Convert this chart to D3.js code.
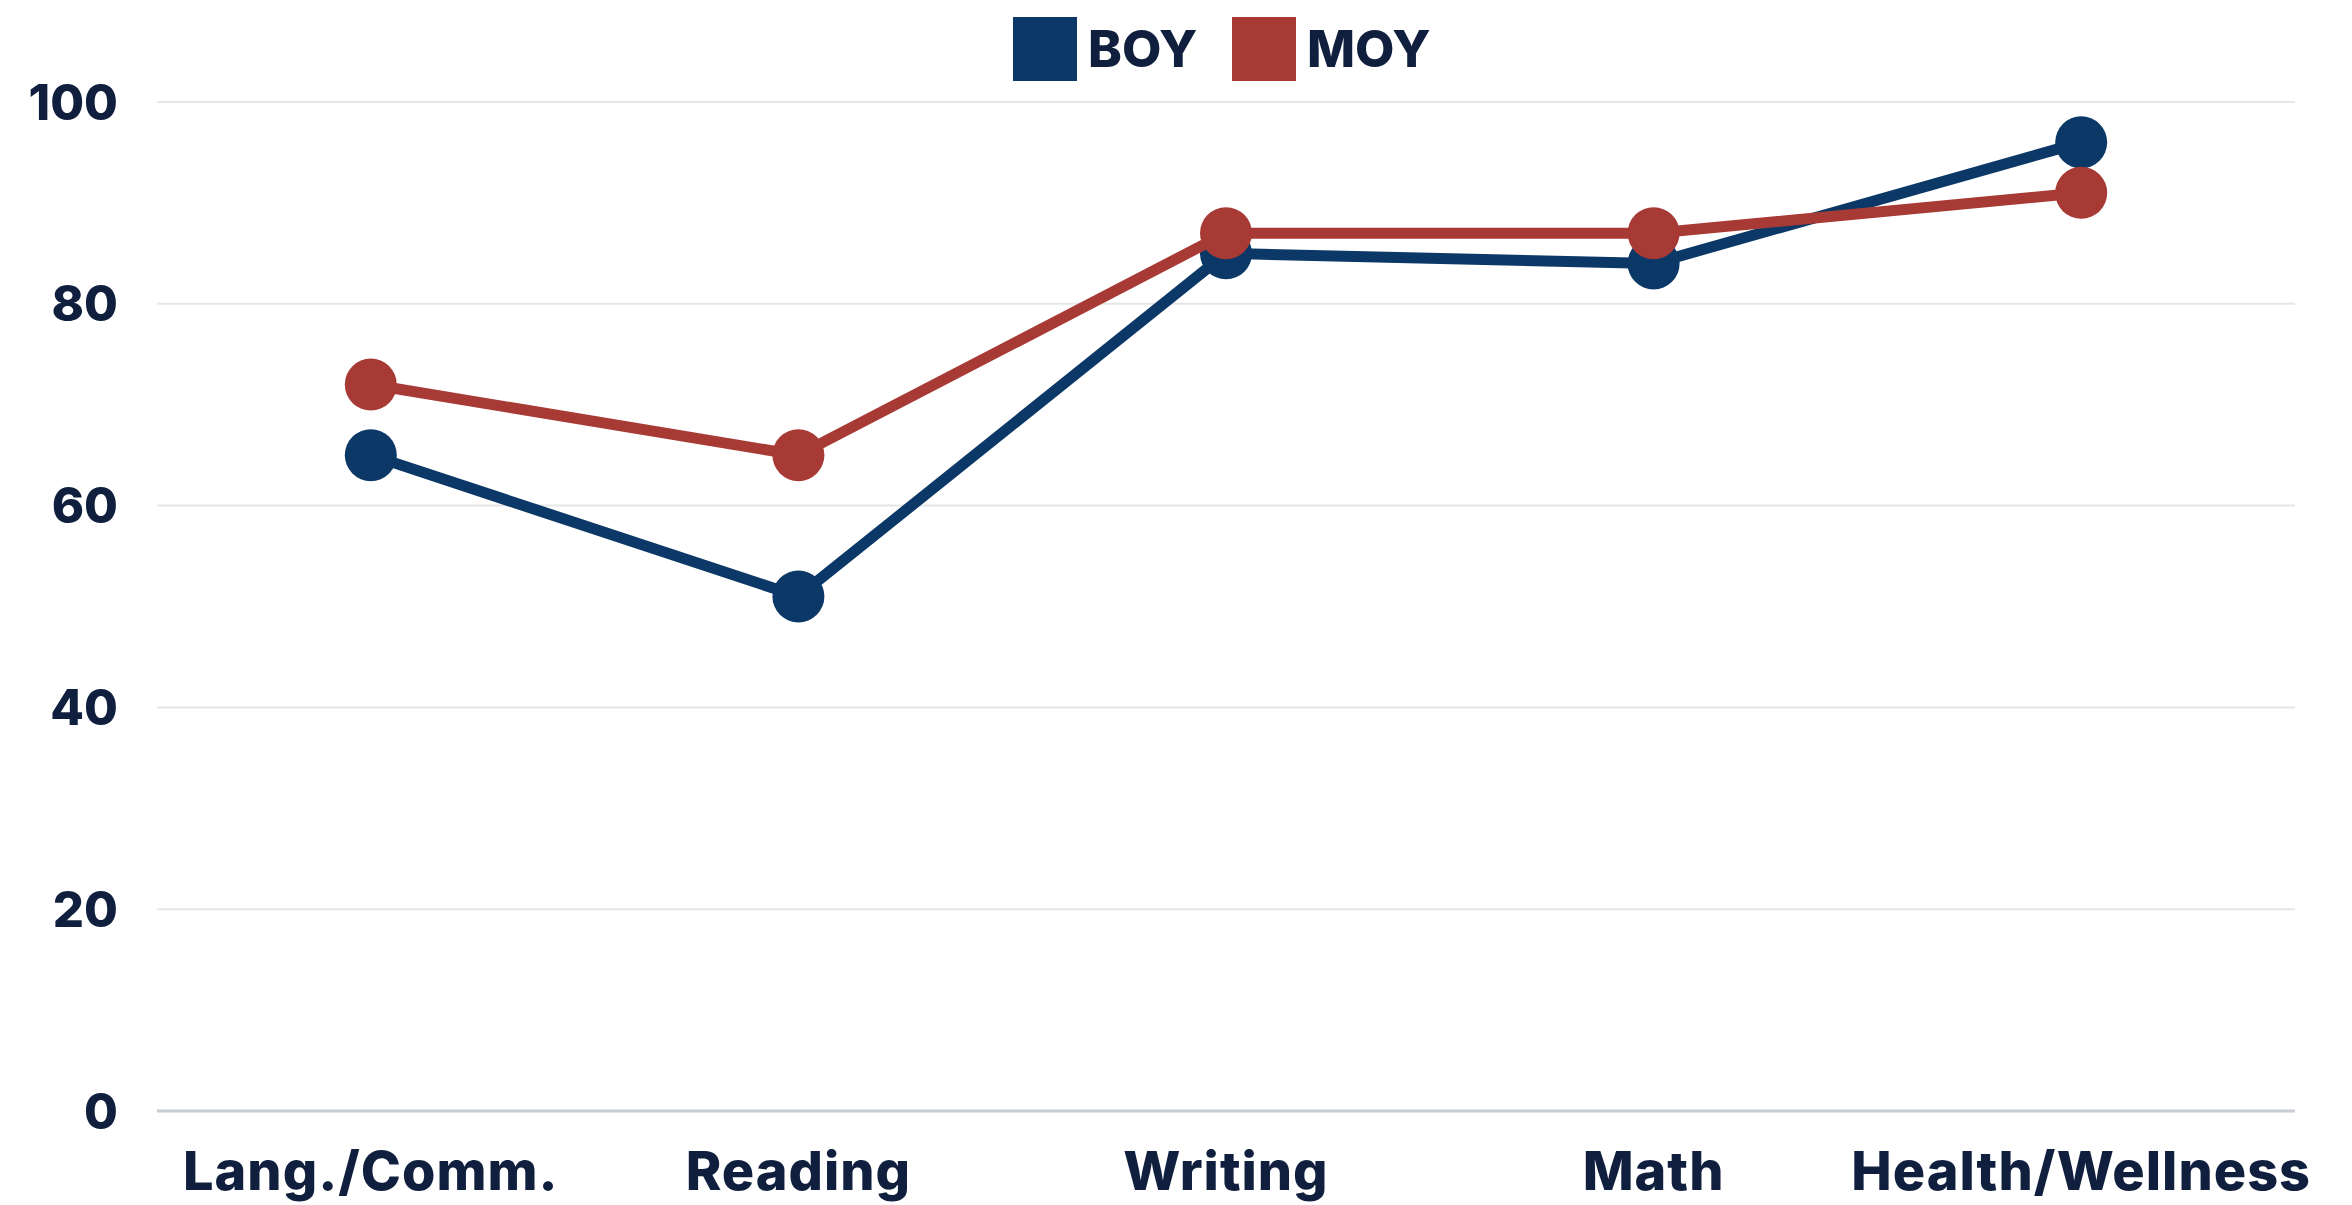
<!DOCTYPE html>
<html>
<head>
<meta charset="utf-8">
<script src="https://cdn.jsdelivr.net/npm/d3@7"></script>
<style>
  html, body { margin: 0; padding: 0; background: #fff; }
  svg text { font-family: Inter, "Noto Sans", sans-serif; font-weight: 800; fill: #0f1f3d; }
</style>
</head>
<body>
<svg id="chart" width="2352" height="1205"></svg>
<script>
// chart data
const categories = ["Lang./Comm.", "Reading", "Writing", "Math", "Health/Wellness"];
const boyValues = [65, 51, 85, 84, 96];
const moyValues = [72, 65, 87, 87, 91];
const yTicks = [0, 20, 40, 60, 80, 100];
const seriesNames = ["BOY", "MOY"];
const seriesColors = ["#0b3866", "#a83a36"];

const svg = d3.select("#chart"),
  width = +svg.attr("width"),
  height = +svg.attr("height");

const margin = { top: 102, right: 57, bottom: 94, left: 157 };

const x = d3.scaleBand()
  .domain(categories)
  .range([margin.left, width - margin.right]);

const y = d3.scaleLinear()
  .domain([0, 100])
  .range([height - margin.bottom, margin.top]);

// grid lines
svg.append("g")
  .selectAll("line")
  .data(yTicks)
  .enter()
  .append("line")
  .attr("x1", margin.left)
  .attr("x2", width - margin.right)
  .attr("y1", d => y(d))
  .attr("y2", d => y(d))
  .attr("stroke", d => d === 0 ? "#c8ccd4" : "#e6e6e6")
  .attr("stroke-width", d => d === 0 ? 3 : 2);

// y labels
svg.append("g")
  .selectAll("text")
  .data(yTicks)
  .enter()
  .append("text")
  .attr("x", 118)
  .attr("y", d => y(d))
  .attr("dy", "0.36em")
  .attr("text-anchor", "end")
  .style("font-size", "49px")
  .text(d => d);

// x labels
svg.append("g")
  .selectAll("text")
  .data(categories)
  .enter()
  .append("text")
  .attr("x", d => x(d) + x.bandwidth() / 2)
  .attr("y", 1190)
  .attr("text-anchor", "middle")
  .style("font-size", "54px")
  .style("letter-spacing", "1px")
  .text(d => d);

const series = [boyValues, moyValues];

const line = d3.line()
  .x((d, i) => x(categories[i]) + x.bandwidth() / 2)
  .y(d => y(d));

series.forEach((vals, s) => {
  const g = svg.append("g");
  g.append("path")
    .datum(vals)
    .attr("d", line)
    .attr("fill", "none")
    .attr("stroke", seriesColors[s])
    .attr("stroke-width", 11);
  g.selectAll("circle")
    .data(vals)
    .enter()
    .append("circle")
    .attr("cx", (d, i) => x(categories[i]) + x.bandwidth() / 2)
    .attr("cy", d => y(d))
    .attr("r", 26)
    .attr("fill", seriesColors[s]);
});

// legend
const legendX = [1013, 1232];
const legend = svg.append("g")
  .selectAll("g")
  .data(seriesNames)
  .enter()
  .append("g")
  .attr("transform", (d, i) => "translate(" + legendX[i] + ",17)");

legend.append("rect")
  .attr("width", 64)
  .attr("height", 64)
  .attr("fill", (d, i) => seriesColors[i]);

legend.append("text")
  .attr("x", 75)
  .attr("y", 32)
  .attr("dy", "0.36em")
  .style("font-size", "51px")
  .text(d => d);
</script>
</body>
</html>
